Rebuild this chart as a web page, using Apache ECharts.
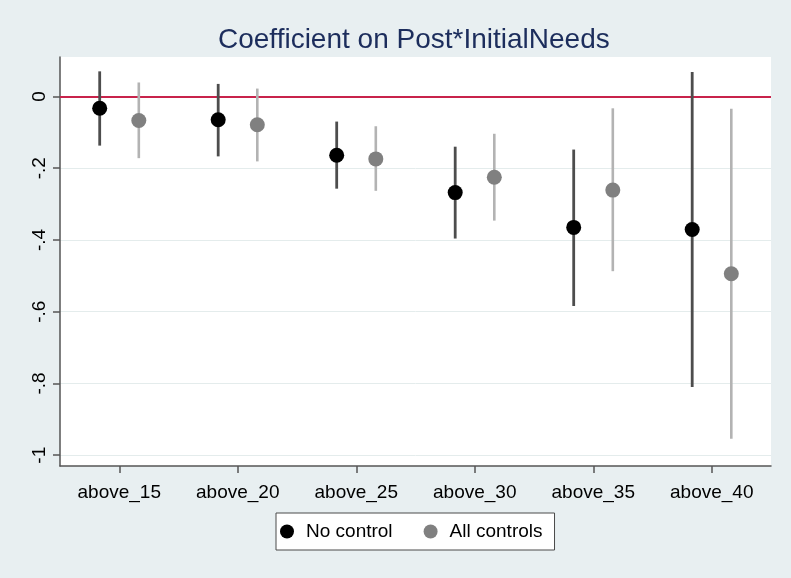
<!DOCTYPE html>
<html>
<head>
<meta charset="utf-8">
<script src="https://cdn.jsdelivr.net/npm/echarts@6/dist/echarts.min.js"></script>
<style>
html,body{margin:0;padding:0;background:#e8eff1;}
#chart{width:791px;height:578px;}
</style>
</head>
<body>
<div id="chart"></div>
<script>
const categories = ['above_15', 'above_20', 'above_25', 'above_30', 'above_35', 'above_40'];
const noCtrlEst = [-0.033, -0.065, -0.164, -0.268, -0.365, -0.371];
const noCtrlLo  = [-0.137, -0.167, -0.257, -0.396, -0.584, -0.810];
const noCtrlHi  = [0.070, 0.035, -0.070, -0.140, -0.148, 0.068];
const allCtrlEst = [-0.067, -0.079, -0.174, -0.225, -0.261, -0.494];
const allCtrlLo  = [-0.172, -0.181, -0.263, -0.346, -0.487, -0.954];
const allCtrlHi  = [0.039, 0.022, -0.083, -0.104, -0.033, -0.034];
const yTicks = [0, -0.2, -0.4, -0.6, -0.8, -1];

function rows(est, lo, hi) {
  return categories.map((c, i) => [i, est[i], lo[i], hi[i]]);
}
function fmt(v) {
  if (v === 0) return '0';
  if (v === -1) return '-1';
  return '-' + String(Math.abs(v)).replace(/^0\./, '.');
}
function makeRender(offsetFrac, lineColor, lineWidth, dotColor, r) {
  return function (params, api) {
    const i = api.value(0);
    const dx = api.size([1, 0])[0] * offsetFrac;
    const pE = api.coord([i, api.value(1)]);
    const pL = api.coord([i, api.value(2)]);
    const pH = api.coord([i, api.value(3)]);
    return {
      type: 'group',
      children: [
        { type: 'line', shape: { x1: pL[0] + dx, y1: pL[1], x2: pH[0] + dx, y2: pH[1] },
          style: { stroke: lineColor, lineWidth: lineWidth } },
        { type: 'circle', shape: { cx: pE[0] + dx, cy: pE[1], r: r },
          style: { fill: dotColor } }
      ]
    };
  };
}

const chart = echarts.init(document.getElementById('chart'), null, { renderer: 'canvas' });
chart.setOption({
  backgroundColor: '#e8eff1',
  animation: false,
  title: {
    text: 'Coefficient on Post*InitialNeeds',
    left: 213,
    top: 21,
    textStyle: { fontFamily: 'Liberation Sans', fontWeight: 'normal', fontSize: 28, color: '#1c2d5c' }
  },
  legend: {
    bottom: 28,
    left: 276,
    icon: 'circle',
    itemWidth: 14,
    itemHeight: 14,
    itemGap: 31,
    padding: [9, 12, 9, 4],
    backgroundColor: '#ffffff',
    borderColor: '#4a4a4a',
    borderWidth: 1,
    textStyle: { fontFamily: 'Liberation Sans', fontSize: 19, color: '#000', padding: [0, 0, 0, 7] },
    data: ['No control', 'All controls']
  },
  grid: {
    left: 60, right: 20, top: 57, bottom: 112,
    show: true, backgroundColor: '#ffffff', borderWidth: 0
  },
  xAxis: {
    type: 'category',
    data: categories,
    boundaryGap: true,
    axisLine: { onZero: false, lineStyle: { color: '#555', width: 1.5 } },
    axisTick: { show: true, interval: 0, alignWithLabel: true, length: 7, lineStyle: { color: '#555', width: 1.5 } },
    axisLabel: { interval: 0, margin: 17, fontFamily: 'Liberation Sans', fontSize: 19, color: '#000' },
    splitLine: { show: false }
  },
  yAxis: {
    type: 'value',
    min: -1.03,
    max: 0.11,
    axisLine: { show: true, onZero: false, lineStyle: { color: '#555', width: 1.5 } },
    axisTick: { show: true, length: 7, customValues: yTicks, lineStyle: { color: '#555', width: 1.5 } },
    axisLabel: { customValues: yTicks, rotate: 90, margin: 11, fontFamily: 'Liberation Sans', fontSize: 19, color: '#000', formatter: fmt },
    splitLine: { show: true, lineStyle: { color: '#e4ecec', width: 1 } }
  },
  series: [
    {
      name: 'No control',
      type: 'custom',
      itemStyle: { color: '#000000' },
      encode: { x: 0, y: [1, 2, 3] },
      data: rows(noCtrlEst, noCtrlLo, noCtrlHi),
      renderItem: makeRender(-0.165, '#4d4d4d', 2.8, '#000000', 7.5),
      z: 3,
      markLine: {
        silent: true,
        symbol: 'none',
        label: { show: false },
        lineStyle: { color: '#c8234b', width: 2, type: 'solid' },
        data: [{ yAxis: 0 }],
        z: 2
      }
    },
    {
      name: 'All controls',
      type: 'custom',
      itemStyle: { color: '#808080' },
      encode: { x: 0, y: [1, 2, 3] },
      data: rows(allCtrlEst, allCtrlLo, allCtrlHi),
      renderItem: makeRender(0.165, '#b3b3b3', 2.6, '#808080', 7.5),
      z: 3
    }
  ]
});
</script>
</body>
</html>
